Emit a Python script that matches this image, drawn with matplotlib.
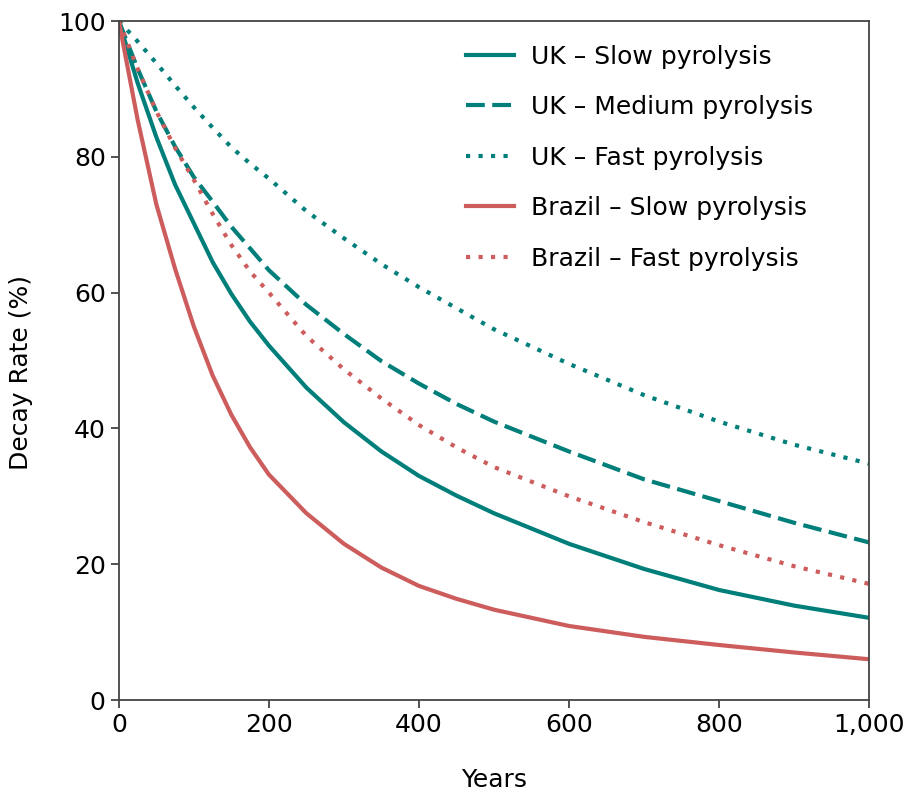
import matplotlib
matplotlib.use("Agg")
import matplotlib.pyplot as plt
from matplotlib.ticker import FuncFormatter

# Years on the x axis (same sample years for every curve)
years = [0, 25, 50, 75, 100, 125, 150, 175, 200, 250, 300, 350, 400, 450, 500,
         600, 700, 800, 900, 1000]

# Remaining carbon (%)
uk_slow = [100, 90.9, 82.9, 75.9, 70.2, 64.5, 59.8, 55.7, 52.2, 46, 40.9, 36.6, 33,
           30.1, 27.5, 23, 19.3, 16.2, 13.9, 12.1]
uk_medium = [100, 93, 86.7, 81.5, 77, 73.4, 69.7, 66.5, 63.3, 58.2, 53.9, 49.9, 46.6,
             43.6, 41, 36.6, 32.5, 29.3, 26.1, 23.2]
uk_fast = [100, 97, 93.8, 90.5, 87.3, 84.3, 81.4, 79, 76.8, 72, 68, 64.2, 60.8,
           57.7, 54.6, 49.5, 44.9, 41, 37.6, 34.8]
brazil_slow = [100, 85.5, 73, 63.5, 55, 47.8, 42, 37.2, 33.2, 27.5, 23, 19.5, 16.8,
               14.9, 13.3, 10.9, 9.3, 8.1, 7, 6]
brazil_fast = [100, 93, 86.7, 81.3, 76.6, 71.6, 67, 63.1, 60, 53.6, 48.7, 44.4, 40.5,
               37.2, 34.3, 30, 26.2, 22.8, 19.7, 17.1]

teal = '#007F7A'
red = '#CD5C5C'
dotted = (0, (1, 2))
dashed = (0, (4.5, 1.8))

fig = plt.figure(figsize=(9.14, 7.96), dpi=100)
ax = fig.add_axes([0.130, 0.1206, 0.821, 0.853])

ax.plot(years, uk_slow, color=teal, lw=3, ls='-', label='UK – Slow pyrolysis')
ax.plot(years, uk_medium, color=teal, lw=3, ls=dashed, label='UK – Medium pyrolysis')
ax.plot(years, uk_fast, color=teal, lw=3, ls=dotted, label='UK – Fast pyrolysis')
ax.plot(years, brazil_slow, color=red, lw=3, ls='-', label='Brazil – Slow pyrolysis')
ax.plot(years, brazil_fast, color=red, lw=3, ls=dotted, label='Brazil – Fast pyrolysis')

ax.set_xlim(0, 1000)
ax.set_ylim(0, 100)
ax.set_xticks([0, 200, 400, 600, 800, 1000])
ax.set_yticks([0, 20, 40, 60, 80, 100])
ax.xaxis.set_major_formatter(FuncFormatter(lambda v, p: f'{v:,.0f}'))
ax.tick_params(labelsize=18, length=6, width=1.2, color='#333333')
for s in ax.spines.values():
    s.set_color('#444444')
    s.set_linewidth(1.3)

ax.set_xlabel('Years', fontsize=18, va='top')
ax.xaxis.set_label_coords(0.5, -0.1)
ax.set_ylabel('Decay Rate (%)', fontsize=18)
ax.yaxis.set_label_coords(-0.115, 0.483)

ax.legend(loc='upper left', fontsize=18, frameon=False, handlelength=1.9,
          handletextpad=0.7, labelspacing=1.06, borderpad=0, borderaxespad=0,
          bbox_to_anchor=(0.4627, 0.9654))

fig.savefig('out.png', dpi=100)
